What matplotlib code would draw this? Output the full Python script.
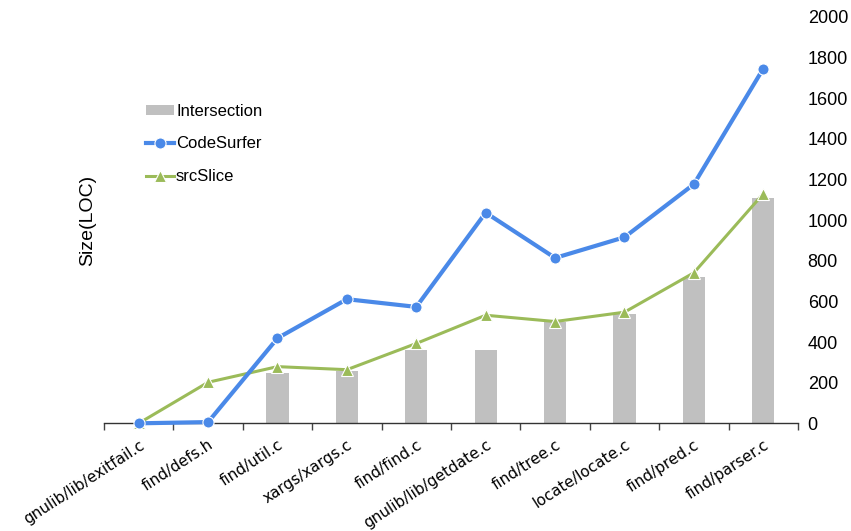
import matplotlib
matplotlib.use("Agg")
import matplotlib.pyplot as plt
import numpy as np

files = [
    "gnulib/lib/exitfail.c", "find/defs.h", "find/util.c", "xargs/xargs.c",
    "find/find.c", "gnulib/lib/getdate.c", "find/tree.c", "locate/locate.c",
    "find/pred.c", "find/parser.c",
]
intersection = [0, 0, 249, 259, 360, 361, 497, 539, 722, 1108]
codesurfer = [0, 6, 419, 611, 573, 1037, 814, 916, 1177, 1746]
srcslice = [0, 202, 279, 264, 393, 532, 501, 547, 741, 1130]

BLUE = "#4a89e8"
GREEN = "#9bbb59"
GRAY = "#c0c0c0"

fig = plt.figure(figsize=(8.51, 5.31), dpi=100)
ax = fig.add_axes([0.1222, 0.2028, 0.8155, 0.7652])

x = np.arange(len(files))
ax.bar(x, intersection, width=0.32, color=GRAY, edgecolor="none",
       label="Intersection", zorder=1)
ax.plot(x, srcslice, color=GREEN, lw=2.2, marker="^", ms=9,
        mfc=GREEN, mec="white", mew=0.8, label="srcSlice", zorder=2,
        clip_on=False)
ax.plot(x, codesurfer, color=BLUE, lw=3, marker="o", ms=8,
        mfc=BLUE, mec="white", mew=0.8, label="CodeSurfer", zorder=3,
        clip_on=False)

ax.set_xlim(-0.5, len(files) - 0.5)
ax.set_ylim(0, 2000)
ax.set_yticks(np.arange(0, 2001, 200))

# y labels on the right, no spine
ax.yaxis.tick_right()
ax.yaxis.set_label_position("left")
ax.tick_params(axis="y", length=0, pad=7, labelsize=13)
for lbl in ax.get_yticklabels():
    lbl.set_fontfamily("Liberation Sans")
ax.set_ylabel("Size(LOC)", fontsize=14, family="Liberation Sans", labelpad=6)

# category labels at centers, tick marks at boundaries
ax.set_xticks(x)
ax.set_xticklabels(files, rotation=33, ha="right", rotation_mode="anchor",
                   fontsize=11, family="DejaVu Sans")
ax.tick_params(axis="x", which="major", length=0, pad=10)
ax.set_xticks(np.arange(-0.5, len(files)), minor=True)
ax.tick_params(axis="x", which="minor", length=5, width=1, color="#444444",
               direction="out")

for side in ["left", "right", "top"]:
    ax.spines[side].set_visible(False)
ax.spines["bottom"].set_color("#333333")
ax.spines["bottom"].set_linewidth(1)

handles, labels = ax.get_legend_handles_labels()
order = [labels.index(n) for n in ["Intersection", "CodeSurfer", "srcSlice"]]
ax.legend([handles[i] for i in order], [labels[i] for i in order],
          loc="upper left", bbox_to_anchor=(0.039, 0.823), frameon=False,
          prop={"family": "Liberation Sans", "size": 12},
          labelspacing=1.05, handlelength=1.65, handletextpad=0.15,
          handleheight=0.5)

fig.savefig("out.png", dpi=100)
